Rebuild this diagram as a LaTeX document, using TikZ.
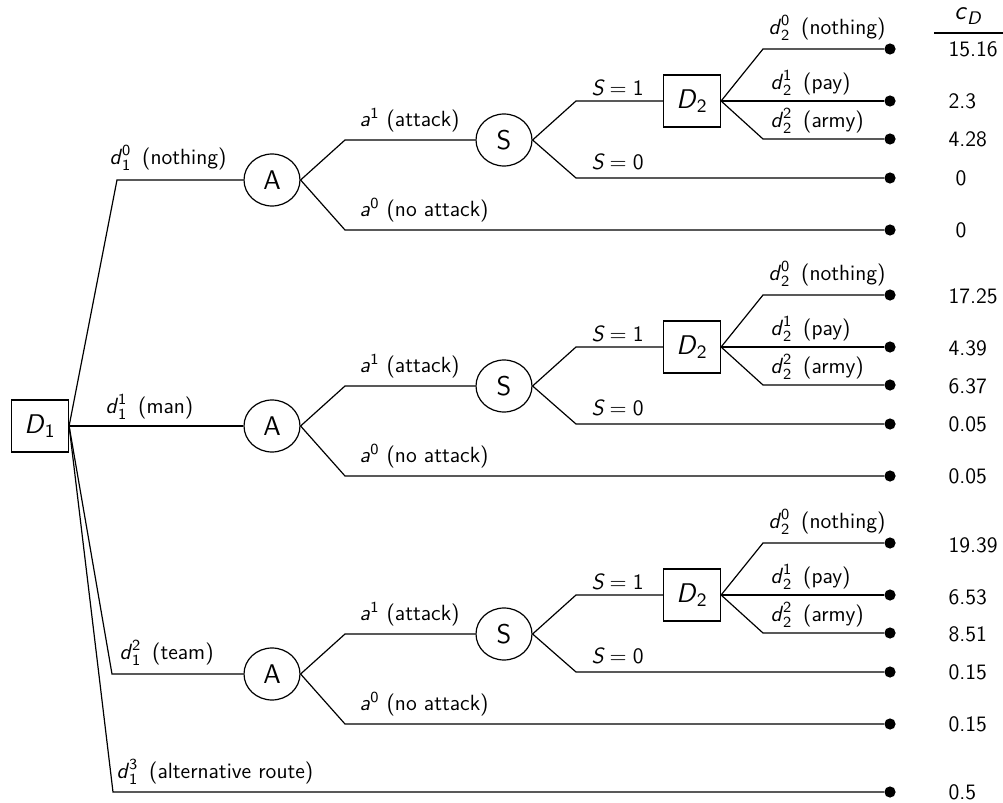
\documentclass[tikz,border=0pt]{standalone}
\usepackage{amsmath}
\usepackage{fontspec}
\usetikzlibrary{shapes.geometric}
% sans italic variable with sans upright indices
\newcommand\dvar[2]{$\textit{d\/}^{\text{#1}}_{\text{#2}}$\,}
\begin{document}
\begin{tikzpicture}[x=0.5pt,y=-0.5pt,line width=0.6pt,
  font=\sffamily\fontsize{11}{13}\selectfont,
  decbox/.style={draw,rectangle,minimum width=28.5pt,minimum height=26pt,inner sep=0pt,
    font=\sffamily\fontsize{13.5}{15}\selectfont},
  chance/.style={draw,ellipse,minimum width=28pt,minimum height=26pt,inner sep=0pt,
    font=\sffamily\fontsize{13.5}{15}\selectfont},
  leaf/.style={circle,fill,inner sep=0pt,minimum size=5.6pt},
  lbl/.style={anchor=west,inner sep=0pt},
  val/.style={anchor=west,inner sep=0pt}]
\useasboundingbox (0,0) rectangle (1003,803);

% first decision
\node[decbox] (D1) at (40,426) {$\textit{D\/}_{\text{1}}$};

% three identical attack / detection / second-decision subtrees
\foreach \g/\o in {1/0,2/246,3/494}{
  \node[chance] (A\g) at (272,180+\o) {A};
  \node[chance] (S\g) at (504,140+\o) {S};
  \node[decbox] (D2\g) at (692,101+\o) {$\textit{D\/}_{\text{2}}$};
  \coordinate (au\g) at (345,140+\o);
  \coordinate (ad\g) at (345,230+\o);
  \coordinate (su\g) at (576,101+\o);
  \coordinate (sd\g) at (576,178+\o);
  \coordinate (du\g) at (763,49+\o);
  \coordinate (dd\g) at (763,139+\o);
  \node[leaf] (L\g a) at (890,49+\o) {};
  \node[leaf] (L\g b) at (890,101+\o) {};
  \node[leaf] (L\g c) at (890,139+\o) {};
  \node[leaf] (L\g d) at (890,178+\o) {};
  \node[leaf] (L\g e) at (890,230+\o) {};
  \draw (A\g.east) -- (au\g) -- (S\g.west);
  \draw (A\g.east) -- (ad\g) -- (L\g e);
  \draw (S\g.east) -- (su\g) -- (D2\g.west);
  \draw (S\g.east) -- (sd\g) -- (L\g d);
  \draw (D2\g.east) -- (du\g) -- (L\g a);
  \draw (D2\g.east) -- (L\g b);
  \draw (D2\g.east) -- (dd\g) -- (L\g c);
  \node[lbl] (ta\g) at (359,120+\o) {$\textit{a\/}^{\text{1}}$ (attack)};
  \node[lbl] (tn\g) at (359,210+\o) {$\textit{a\/}^{\text{0}}$ (no attack)};
  \node[lbl] (ts\g) at (591,88+\o) {$\textit{S} = \text{1}$};
  \node[lbl] (tz\g) at (591,162+\o) {$\textit{S} = \text{0}$};
  \node[lbl] (tq\g) at (768,28+\o) {\dvar{0}{2} (nothing)};
  \node[lbl] (tp\g) at (770,83+\o) {\dvar{1}{2} (pay)};
  \node[lbl] (tr\g) at (770,121+\o) {\dvar{2}{2} (army)};
}

% first-stage branches
\coordinate (b0) at (117,180);
\coordinate (b2) at (112,674);
\coordinate (b3) at (113,792);
\node[leaf] (L4) at (890,792) {};
\draw (D1.east) -- (b0) -- (A1.west);
\draw (D1.east) -- (A2.west);
\draw (D1.east) -- (b2) -- (A3.west);
\draw (D1.east) -- (b3) -- (L4);
\node[lbl] (t0) at (109,158) {\dvar{0}{1} (nothing)};
\node[lbl] (t1) at (105,407) {\dvar{1}{1} (man)};
\node[lbl] (t2) at (119,653) {\dvar{2}{1} (team)};
\node[lbl] (t3) at (116,772) {\dvar{3}{1} (alternative route)};

% cost column
\node[font=\sffamily\fontsize{13}{15}\selectfont] (cD) at (968,16) {$\textit{c\/}_{\textit{D}}$};
\coordinate (rl) at (934,33);
\coordinate (rr) at (1003,33);
\draw (rl) -- (rr);
\node[val] (v1a) at (948,49) {15.16};
\node[val] (v1b) at (948,101) {2.3};
\node[val] (v1c) at (948,139) {4.28};
\node[val] (v1d) at (955,178) {0};
\node[val] (v1e) at (955,230) {0};
\node[val] (v2a) at (948,296) {17.25};
\node[val] (v2b) at (948,348) {4.39};
\node[val] (v2c) at (948,386) {6.37};
\node[val] (v2d) at (948,424) {0.05};
\node[val] (v2e) at (948,476) {0.05};
\node[val] (v3a) at (948,545) {19.39};
\node[val] (v3b) at (948,597) {6.53};
\node[val] (v3c) at (948,634) {8.51};
\node[val] (v3d) at (948,672) {0.15};
\node[val] (v3e) at (948,724) {0.15};
\node[val] (v4) at (948,792) {0.5};
\end{tikzpicture}
\end{document}
